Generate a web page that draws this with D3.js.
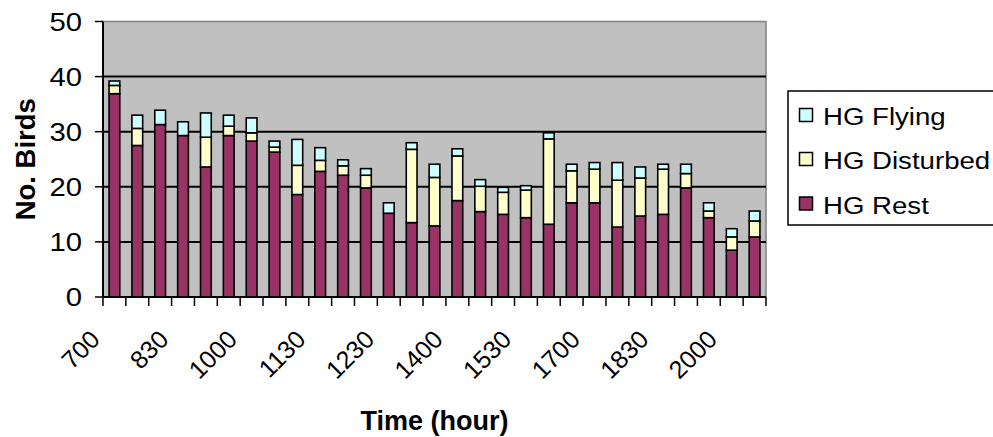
<!DOCTYPE html>
<html>
<head>
<meta charset="utf-8">
<script src="https://cdn.jsdelivr.net/npm/d3@7"></script>
<style>
  html, body { margin: 0; padding: 0; background: #fff; }
  svg { display: block; }
  text { font-family: "Liberation Sans", Arial, sans-serif; fill: #000; }
</style>
</head>
<body>
<svg id="chart" width="993" height="437"></svg>
<script>
// ---- data ----
const categories = ["700","730","800","830","900","930","1000","1030","1100","1130","1200","1215","1230","1300","1330","1400","1430","1500","1530","1600","1630","1700","1730","1800","1830","1900","1930","2000","2030"];
const tickLabels = ["700","830","1000","1130","1230","1400","1530","1700","1830","2000"];
const hgRest      = [36.9, 27.5, 31.3, 29.3, 23.6, 29.3, 28.3, 26.3, 18.6, 22.8, 22.1, 19.8, 15.2, 13.5, 12.9, 17.5, 15.5, 15.0, 14.4, 13.2, 17.1, 17.1, 12.7, 14.7, 15.0, 19.8, 14.4, 8.5, 10.9];
const hgDisturbed = [1.5, 3.1, 0, 0, 5.4, 1.7, 1.5, 0.9, 5.3, 2.0, 1.7, 2.3, 0, 13.3, 8.8, 8.1, 4.6, 4.0, 5.0, 15.5, 5.8, 6.1, 8.5, 6.9, 8.2, 2.6, 1.2, 2.4, 2.9];
const hgFlying    = [0.8, 2.4, 2.6, 2.5, 4.4, 2.0, 2.7, 1.1, 4.7, 2.3, 1.1, 1.2, 1.9, 1.2, 2.4, 1.3, 1.2, 0.9, 0.8, 1.1, 1.2, 1.2, 3.2, 2.0, 0.9, 1.7, 1.5, 1.5, 1.8];
const seriesNames = ["HG Rest", "HG Disturbed", "HG Flying"];
const yTicks = [0, 10, 20, 30, 40, 50];

// ---- layout ----
const colors = {"HG Rest": "#993366", "HG Disturbed": "#FFFFCC", "HG Flying": "#CCFFFF"};
const plot = {left: 103, right: 766, top: 21.5, bottom: 297};
const svg = d3.select("#chart");

const x = d3.scaleBand().domain(categories).range([plot.left, plot.right])
  .paddingInner(0.53).paddingOuter(0.265);
const y = d3.scaleLinear().domain([0, 50]).range([plot.bottom, plot.top]);

// plot background
svg.append("rect")
  .attr("x", plot.left).attr("y", y(50))
  .attr("width", plot.right - plot.left).attr("height", y(0) - y(50))
  .attr("fill", "#C0C0C0").attr("stroke", "#808080").attr("stroke-width", 1.5);

// gridlines
svg.append("g").selectAll("line").data(yTicks.filter(d => d > 0 && d < 50)).join("line")
  .attr("x1", plot.left).attr("x2", plot.right)
  .attr("y1", d => y(d)).attr("y2", d => y(d))
  .attr("stroke", "#000").attr("stroke-width", 2);

// stacked bars
const table = categories.map((c, i) => ({cat: c, "HG Rest": hgRest[i], "HG Disturbed": hgDisturbed[i], "HG Flying": hgFlying[i]}));
const stacked = d3.stack().keys(seriesNames)(table);
const gBars = svg.append("g");
stacked.forEach(layer => {
  gBars.append("g").selectAll("rect").data(layer.filter(d => d[1] - d[0] > 0)).join("rect")
    .attr("x", d => x(d.data.cat))
    .attr("width", x.bandwidth())
    .attr("y", d => y(d[1]))
    .attr("height", d => y(d[0]) - y(d[1]))
    .attr("fill", colors[layer.key])
    .attr("stroke", "#000").attr("stroke-width", 1.6);
});

// axes lines
svg.append("line").attr("x1", plot.left).attr("x2", plot.left).attr("y1", y(50)).attr("y2", y(0))
  .attr("stroke", "#000").attr("stroke-width", 2);
svg.append("line").attr("x1", plot.left - 1).attr("x2", plot.right).attr("y1", y(0)).attr("y2", y(0))
  .attr("stroke", "#000").attr("stroke-width", 2);

// y ticks and labels
const gy = svg.append("g");
gy.selectAll("line").data(yTicks).join("line")
  .attr("x1", plot.left - 8).attr("x2", plot.left)
  .attr("y1", d => y(d)).attr("y2", d => y(d))
  .attr("stroke", "#000").attr("stroke-width", 1.5);
gy.selectAll("text").data(yTicks).join("text")
  .attr("transform", d => `translate(82,${y(d)}) scale(1.17,1)`)
  .attr("text-anchor", "end").attr("dy", "0.36em")
  .style("font-size", "25px")
  .text(d => d);

// x ticks at category boundaries
const half = x.step() / 2;
const bounds = categories.map(c => x(c) + x.bandwidth() / 2 - half)
  .concat([x(categories[categories.length - 1]) + x.bandwidth() / 2 + half]);
svg.append("g").selectAll("line").data(bounds).join("line")
  .attr("x1", d => d).attr("x2", d => d)
  .attr("y1", y(0)).attr("y2", y(0) + 9)
  .attr("stroke", "#000").attr("stroke-width", 1.5);

// x labels
svg.append("g").selectAll("text").data(categories.filter(c => tickLabels.includes(c))).join("text")
  .attr("transform", c => `translate(${x(c) + x.bandwidth() / 2 - 13},341) rotate(-45)`)
  .attr("text-anchor", "end")
  .style("font-size", "25px")
  .text(c => c);

// axis titles
svg.append("text")
  .attr("x", (plot.left + plot.right) / 2).attr("y", 430)
  .attr("text-anchor", "middle")
  .style("font-size", "27px").style("font-weight", "bold")
  .text("Time (hour)");
svg.append("text")
  .attr("transform", `translate(35,${(plot.top + plot.bottom) / 2}) rotate(-90)`)
  .attr("text-anchor", "middle")
  .style("font-size", "27.5px").style("font-weight", "bold")
  .text("No. Birds");

// legend
const lg = svg.append("g");
lg.append("rect").attr("x", 788).attr("y", 91).attr("width", 220).attr("height", 134)
  .attr("fill", "#fff").attr("stroke", "#000").attr("stroke-width", 1.5);
const legendOrder = ["HG Flying", "HG Disturbed", "HG Rest"];
const legendBaselines = [125, 169, 213.5];
legendOrder.forEach((name, i) => {
  lg.append("rect").attr("x", 799.5).attr("y", legendBaselines[i] - 16.5)
    .attr("width", 13).attr("height", 13)
    .attr("fill", colors[name]).attr("stroke", "#000").attr("stroke-width", 1.5);
  lg.append("text")
    .attr("transform", `translate(823,${legendBaselines[i]}) scale(1.15,1)`)
    .style("font-size", "24px")
    .text(name);
});
</script>
</body>
</html>
